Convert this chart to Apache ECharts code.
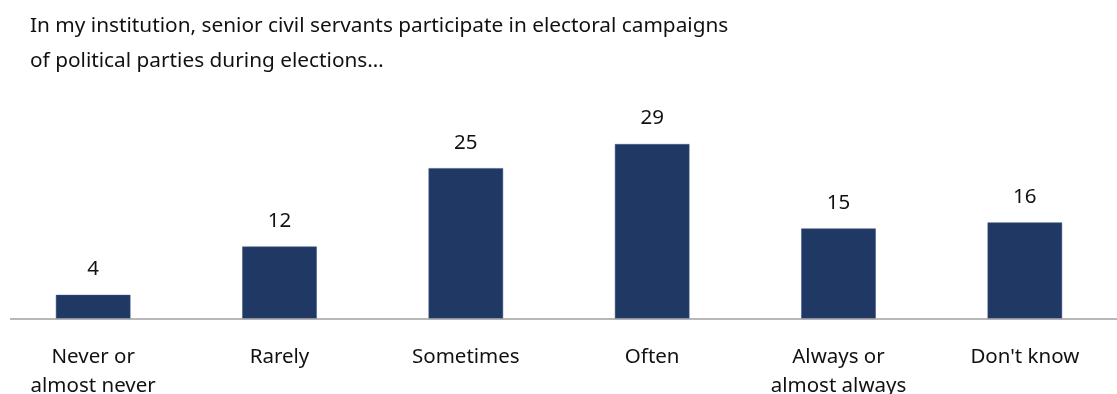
<!DOCTYPE html>
<html>
<head>
<meta charset="utf-8">
<script src="https://cdn.jsdelivr.net/npm/echarts@6/dist/echarts.min.js"></script>
<style>
  html, body { margin: 0; padding: 0; background: #fff; }
  #chart { width: 1117px; height: 394px; }
</style>
</head>
<body>
<div id="chart"></div>
<script>
// Survey answers (percent of respondents)
const categories = ['Never or\nalmost never', 'Rarely', 'Sometimes', 'Often', 'Always or\nalmost always', "Don't know"];
const shares = [4, 12, 25, 29, 15, 16];
const titleLines = [
  'In my institution, senior civil servants participate in electoral campaigns',
  'of political parties during elections…'
];

const FONT = '"Noto Sans", "Open Sans", sans-serif';
const TEXT = '#111111';
const chart = echarts.init(document.getElementById('chart'));

chart.setOption({
  animation: false,
  backgroundColor: '#ffffff',
  title: {
    text: titleLines.join('\n'),
    left: 25,
    top: 4,
    textStyle: { fontFamily: FONT, fontSize: 20.8, fontWeight: 'normal', color: TEXT, lineHeight: 35 }
  },
  grid: { left: 0, right: -1, top: 138, bottom: 75, outerBoundsMode: 'none', containLabel: false },
  xAxis: {
    type: 'category',
    data: categories,
    axisLine: { show: false },
    axisTick: { show: false },
    axisLabel: {
      interval: 0,
      margin: 24,
      fontFamily: FONT,
      fontSize: 20.5,
      lineHeight: 29,
      color: TEXT
    }
  },
  yAxis: { type: 'value', min: 0, max: 30, show: false, splitLine: { show: false } },
  series: [{
    type: 'bar',
    data: shares,
    barWidth: '40%',
    itemStyle: { color: '#203864', borderColor: '#3b5382', borderWidth: 0.5 },
    label: {
      show: true,
      position: 'top',
      distance: 15,
      fontFamily: FONT,
      fontSize: 20.5,
      color: TEXT
    }
  }]
});

// Baseline drawn across the plot at the value-axis zero
const zeroY = chart.convertToPixel({ gridIndex: 0 }, [0, 0])[1];
chart.setOption({
  graphic: [{
    type: 'line',
    shape: { x1: 10, y1: zeroY, x2: 1117, y2: zeroY },
    style: { stroke: '#a0a0a0', lineWidth: 1.5 },
    z: 10
  }]
});
</script>
</body>
</html>
